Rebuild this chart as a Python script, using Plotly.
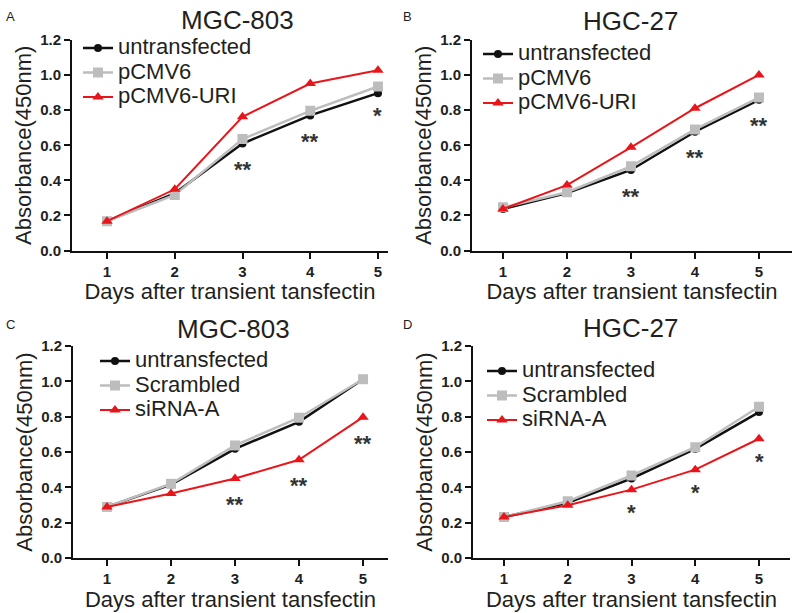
import plotly.graph_objects as go

days = [1, 2, 3, 4, 5]

# Panel A: MGC-803 (overexpression)
a_untrans = [0.167, 0.326, 0.61, 0.77, 0.897]
a_pcmv6 = [0.167, 0.317, 0.635, 0.796, 0.935]
a_uri = [0.167, 0.349, 0.762, 0.952, 1.027]
a_sig = ["", "", "**", "**", "*"]

# Panel B: HGC-27 (overexpression)
b_untrans = [0.237, 0.328, 0.459, 0.677, 0.859]
b_pcmv6 = [0.246, 0.332, 0.48, 0.69, 0.872]
b_uri = [0.237, 0.373, 0.588, 0.811, 1.001]
b_sig = ["", "", "**", "**", "**"]

# Panel C: MGC-803 (knockdown)
c_untrans = [0.289, 0.416, 0.618, 0.771, 1.012]
c_scr = [0.289, 0.42, 0.637, 0.794, 1.012]
c_sirna = [0.289, 0.365, 0.45, 0.556, 0.797]
c_sig = ["", "", "**", "**", "**"]

# Panel D: HGC-27 (knockdown)
d_untrans = [0.232, 0.312, 0.45, 0.618, 0.826]
d_scr = [0.232, 0.321, 0.467, 0.627, 0.856]
d_sirna = [0.232, 0.299, 0.387, 0.50, 0.675]
d_sig = ["", "", "*", "*", "*"]

panel_titles = ["MGC-803", "HGC-27", "MGC-803", "HGC-27"]
panel_letters = ["A", "B", "C", "D"]
x_title = "Days after transient tansfectin"
y_title = "Absorbance(450nm)"

W, H = 800, 613
FONT = "Liberation Sans, Arial, sans-serif"
TXT = "#231f20"
BLACK = "#111111"
GRAY = "#bdbdbd"
RED = "#e8161b"

panels = [
    dict(series=[("untransfected", a_untrans), ("pCMV6", a_pcmv6), ("pCMV6-URI", a_uri)], sig=a_sig,
         px=(72, 388), py=(40, 250.5), xr=(0.483, 5.148), leg=(78, 30.8), title=(237, 20), letter=(10, 17)),
    dict(series=[("untransfected", b_untrans), ("pCMV6", b_pcmv6), ("pCMV6-URI", b_uri)], sig=b_sig,
         px=(472, 792), py=(40, 250.5), xr=(0.516, 5.516), leg=(478, 36.8), title=(630, 21), letter=(407, 17)),
    dict(series=[("untransfected", c_untrans), ("Scrambled", c_scr), ("siRNA-A", c_sirna)], sig=c_sig,
         px=(73, 388), py=(346, 558), xr=(0.469, 5.39), leg=(95, 343.8), title=(233, 329), letter=(10, 324)),
    dict(series=[("untransfected", d_untrans), ("Scrambled", d_scr), ("siRNA-A", d_sirna)], sig=d_sig,
         px=(473, 790), py=(346, 558), xr=(0.514, 5.486), leg=(482, 353.8), title=(630, 328), letter=(407, 324)),
]

styles = [
    dict(color=BLACK, symbol="circle", size=8, width=2.5),
    dict(color=GRAY, symbol="square", size=10, width=2.5),
    dict(color=RED, symbol="triangle-up", size=10, width=2),
]

fig = go.Figure()
annotations = []
layout_axes = {}

for i, p in enumerate(panels):
    k = "" if i == 0 else str(i + 1)
    xa, ya = "x" + k, "y" + k
    leg = "legend" if i == 0 else "legend" + str(i + 1)
    for (name, vals), st in zip(p["series"], styles):
        fig.add_trace(go.Scatter(
            x=days, y=vals, xaxis=xa, yaxis=ya, mode="lines+markers",
            name="<span style='font-size:22px'>" + name + "</span>",
            legend=leg,
            line=dict(color=st["color"], width=st["width"]),
            marker=dict(symbol=st["symbol"], size=st["size"], color=st["color"]),
        ))
    x0, x1 = p["px"]
    yt, yb = p["py"]
    layout_axes["xaxis" + k] = dict(
        domain=[x0 / W, x1 / W], range=list(p["xr"]), anchor=ya,
        tickmode="array", tickvals=days, ticktext=[str(d) for d in days],
        ticks="outside", ticklen=6, tickwidth=2, tickcolor=BLACK,
        showline=True, linecolor=BLACK, linewidth=2, showgrid=False, zeroline=False,
        tickfont=dict(family=FONT, size=15, color=TXT, weight="bold"),
        title=dict(text=x_title, font=dict(family=FONT, size=22, color=TXT), standoff=0),
    )
    layout_axes["yaxis" + k] = dict(
        domain=[1 - yb / H, 1 - yt / H], range=[0, 1.2], anchor=xa,
        tickmode="linear", tick0=0, dtick=0.2, tickformat=".1f",
        ticks="outside", ticklen=6, tickwidth=2, tickcolor=BLACK,
        showline=True, linecolor=BLACK, linewidth=2, showgrid=False, zeroline=False,
        tickfont=dict(family=FONT, size=15, color=TXT, weight="bold"),
        title=dict(text=y_title, font=dict(family=FONT, size=22, color=TXT), standoff=2),
    )
    lx, ly = p["leg"]
    layout_axes[leg] = dict(
        x=lx / W, y=1 - ly / H, xanchor="left", yanchor="top", xref="paper", yref="paper",
        bgcolor="rgba(0,0,0,0)", borderwidth=0, tracegroupgap=0,
        font=dict(family=FONT, size=16.5, color=TXT), itemclick=False,
    )
    tx, ty = p["title"]
    annotations.append(dict(text=panel_titles[i], x=tx / W, y=1 - ty / H, xref="paper", yref="paper",
                            showarrow=False, xanchor="center", yanchor="middle",
                            font=dict(family=FONT, size=26, color=TXT)))
    lx2, ly2 = p["letter"]
    annotations.append(dict(text=panel_letters[i], x=lx2 / W, y=1 - ly2 / H, xref="paper", yref="paper",
                            showarrow=False, xanchor="center", yanchor="middle",
                            font=dict(family=FONT, size=13, color=TXT)))
    # significance marks below the lowest series at each day
    for j, s in enumerate(p["sig"]):
        if not s:
            continue
        low = min(vals[j] for _, vals in p["series"])
        off = 0.12 if len(s) == 2 else 0.10
        annotations.append(dict(text=s, x=days[j], y=low - off, xref=xa, yref=ya, yshift=-5,
                                showarrow=False, xanchor="center", yanchor="middle",
                                font=dict(family=FONT, size=22, color="#333333", weight="bold")))

fig.update_layout(
    width=W, height=H, margin=dict(l=0, r=0, t=0, b=0, autoexpand=False),
    paper_bgcolor="white", plot_bgcolor="white",
    annotations=annotations, showlegend=True,
    **layout_axes,
)

fig.write_html("out.html", config={"displayModeBar": False},
               post_script="document.body.style.margin='0px';document.body.style.overflow='hidden';")
